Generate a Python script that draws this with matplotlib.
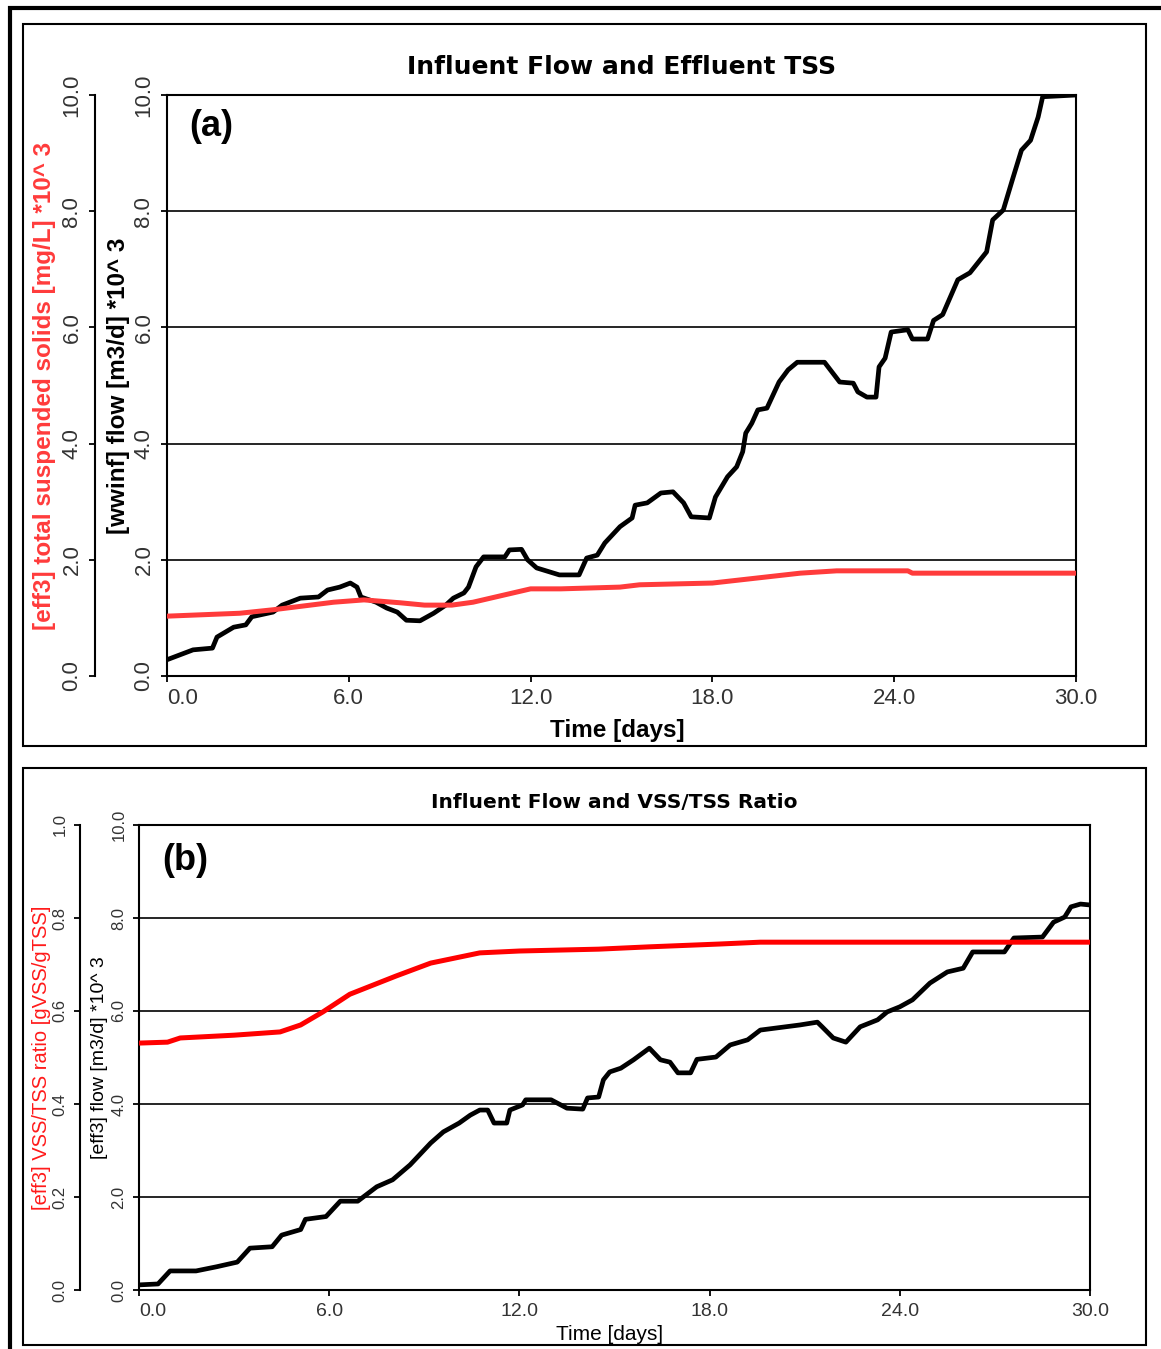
import matplotlib.pyplot as plt
from matplotlib.patches import Rectangle

# ---- data ----
# panel (a): influent flow (*10^3 m3/d) and effluent TSS (*10^3 mg/L)
t_a_flow = [0, 0.86, 1.5, 1.65, 2.2, 2.6, 2.8, 3.5, 3.8, 4.4, 5.0, 5.3, 5.7, 6.05,
            6.27, 6.4, 6.9, 7.25, 7.6, 7.9, 8.35, 8.8, 9.2, 9.45, 9.8, 9.95, 10.2,
            10.45, 11.15, 11.3, 11.7, 11.9, 12.2, 12.95, 13.6, 13.85, 14.2, 14.45,
            14.95, 15.35, 15.45, 15.85, 16.3, 16.7, 17.05, 17.3, 17.9, 18.1, 18.5,
            18.8, 19.0, 19.1, 19.3, 19.5, 19.8, 20.2, 20.5, 20.8, 21.7, 22.2, 22.65,
            22.8, 23.1, 23.4, 23.5, 23.7, 23.9, 24.45, 24.6, 25.1, 25.3, 25.6, 26.1,
            26.5, 27.05, 27.25, 27.6, 27.9, 28.2, 28.5, 28.75, 28.9, 30.0]
flow_a = [0.28, 0.45, 0.48, 0.67, 0.84, 0.88, 1.02, 1.10, 1.22, 1.34, 1.36, 1.48,
          1.53, 1.60, 1.53, 1.36, 1.27, 1.17, 1.10, 0.96, 0.95, 1.08, 1.22, 1.34,
          1.43, 1.53, 1.88, 2.05, 2.05, 2.17, 2.18, 2.00, 1.86, 1.74, 1.74, 2.03,
          2.08, 2.29, 2.57, 2.72, 2.94, 2.98, 3.15, 3.17, 2.98, 2.74, 2.72, 3.08,
          3.43, 3.60, 3.86, 4.18, 4.35, 4.58, 4.61, 5.06, 5.27, 5.40, 5.40, 5.06,
          5.04, 4.89, 4.80, 4.80, 5.32, 5.47, 5.92, 5.96, 5.80, 5.80, 6.12, 6.22,
          6.82, 6.94, 7.30, 7.85, 8.02, 8.54, 9.05, 9.22, 9.62, 9.97, 10.0]

t_a_tss = [0, 2.4, 3.5, 5.5, 6.5, 7.7, 8.5, 9.4, 10.1, 12.0, 13.0, 14.95, 15.6,
           18.0, 20.9, 22.1, 24.45, 24.6, 30.0]
tss_a = [1.03, 1.08, 1.14, 1.27, 1.31, 1.26, 1.22, 1.22, 1.27, 1.50, 1.50, 1.53,
         1.57, 1.60, 1.77, 1.81, 1.81, 1.77, 1.77]

# panel (b): effluent flow (*10^3 m3/d) and VSS/TSS ratio
t_b_flow = [0, 0.6, 0.98, 1.8, 2.45, 3.1, 3.5, 4.2, 4.5, 5.1, 5.25, 5.9, 6.35, 6.9,
            7.5, 8.0, 8.55, 9.2, 9.6, 10.1, 10.45, 10.75, 11.0, 11.2, 11.6, 11.7,
            12.1, 12.2, 13.0, 13.5, 14.0, 14.15, 14.5, 14.65, 14.85, 15.2, 15.6,
            16.1, 16.45, 16.75, 17.0, 17.4, 17.6, 18.2, 18.65, 19.2, 19.6, 20.85,
            21.4, 21.55, 21.9, 22.3, 22.75, 23.3, 23.6, 24.0, 24.4, 24.95, 25.5,
            26.0, 26.3, 27.3, 27.6, 28.5, 28.85, 29.2, 29.4, 29.7, 30.0]
flow_b = [0.11, 0.13, 0.41, 0.41, 0.50, 0.60, 0.90, 0.93, 1.18, 1.30, 1.52, 1.58,
          1.91, 1.91, 2.22, 2.37, 2.69, 3.16, 3.40, 3.59, 3.76, 3.87, 3.87, 3.59,
          3.59, 3.87, 3.98, 4.09, 4.09, 3.91, 3.89, 4.13, 4.15, 4.52, 4.69, 4.77,
          4.95, 5.20, 4.95, 4.90, 4.67, 4.67, 4.96, 5.01, 5.27, 5.38, 5.59, 5.70,
          5.76, 5.66, 5.42, 5.33, 5.66, 5.81, 5.98, 6.09, 6.24, 6.60, 6.84, 6.92,
          7.27, 7.27, 7.57, 7.59, 7.91, 8.02, 8.24, 8.30, 8.28]

t_b_ratio = [0, 0.9, 1.3, 3.0, 4.45, 5.1, 5.8, 6.65, 8.1, 9.2, 10.75, 12.0, 14.5,
             16.1, 18.3, 19.6, 30.0]
ratio_b = [0.531, 0.533, 0.542, 0.548, 0.555, 0.570, 0.598, 0.636, 0.675, 0.703,
           0.725, 0.729, 0.733, 0.738, 0.744, 0.748, 0.748]

x_ticks = [0, 6, 12, 18, 24, 30]
x_ticklabels = ['0.0', '6.0', '12.0', '18.0', '24.0', '30.0']
flow_ticks = [0, 2, 4, 6, 8, 10]
flow_ticklabels = ['0.0', '2.0', '4.0', '6.0', '8.0', '10.0']
ratio_ticks = [0, 0.2, 0.4, 0.6, 0.8, 1.0]
ratio_ticklabels = ['0.0', '0.2', '0.4', '0.6', '0.8', '1.0']

# ---- figure ----
W, H = 1161, 1349
plt.rcParams['font.family'] = ['Liberation Sans', 'DejaVu Sans']
fig = plt.figure(figsize=(W / 100, H / 100), dpi=100)

TICK_C = '#333333'


def px_axes(left, top, right, bottom):
    return [left / W, 1 - bottom / H, (right - left) / W, (bottom - top) / H]


def setup_panel(rect, red_spine_px, tick_fs_x, tick_fs_y, red_top):
    ax = fig.add_axes(rect)
    ax.set_xlim(0, 30)
    ax.set_ylim(0, 10)
    ax.set_xticks(x_ticks, x_ticklabels, fontsize=tick_fs_x, color=TICK_C)
    # first x label sits to the right of its tick in the original
    ax.get_xticklabels()[0].set_horizontalalignment('left')
    ax.set_yticks(flow_ticks, flow_ticklabels, fontsize=tick_fs_y, color=TICK_C,
                  rotation=90, va='center')
    ax.tick_params(axis='both', direction='out', length=4, width=1.3, color='black')
    ax.tick_params(axis='x', pad=5)
    ax.tick_params(axis='y', pad=5)
    ax.grid(axis='y', color='black', lw=1.2)
    for s in ax.spines.values():
        s.set_linewidth(1.5)

    axr = ax.twinx()
    axr.set_ylim(0, red_top)
    axr.yaxis.set_ticks_position('left')
    axr.yaxis.set_label_position('left')
    left_px = rect[0] * W
    width_px = rect[2] * W
    axr.spines['left'].set_position(('axes', (red_spine_px - left_px) / width_px))
    for k in ['right', 'top', 'bottom']:
        axr.spines[k].set_visible(False)
    axr.spines['left'].set_linewidth(1.5)
    axr.tick_params(axis='y', direction='out', length=4, width=1.3, pad=5)
    return ax, axr


# panel (a)
ax_a, axr_a = setup_panel(px_axes(167, 95, 1076, 676), 95, 16, 16, 10)
axr_a.set_yticks(flow_ticks, flow_ticklabels, fontsize=16, color=TICK_C,
                 rotation=90, va='center')
ax_a.plot(t_a_flow, flow_a, color='black', lw=3.4, zorder=3)
axr_a.plot(t_a_tss, tss_a, color='#ff3b3b', lw=3.6)
ax_a.set_title('Influent Flow and Effluent TSS', family='DejaVu Sans',
               fontweight='bold', fontsize=18, pad=15)
ax_a.set_xlabel('Time [days]', fontweight='bold', fontsize=17.5, va='center')
ax_a.xaxis.set_label_coords((617 - 167) / 909, (676 - 730) / 581)
ax_a.set_ylabel('[wwinf] flow [m3/d] *10^ 3', fontweight='bold', fontsize=17.5,
                va='center')
ax_a.yaxis.set_label_coords((118 - 167) / 909, 0.5)
axr_a.set_ylabel('[eff3] total suspended solids [mg/L] *10^ 3', fontweight='bold',
                 fontsize=17.5, color='#ff3b3b', va='center')
axr_a.yaxis.set_label_coords((45 - 167) / 909, 0.5)
ax_a.text(0.025, 0.976, '(a)', transform=ax_a.transAxes, fontsize=26,
          fontweight='bold', va='top', ha='left')

# panel (b)
ax_b, axr_b = setup_panel(px_axes(139, 825, 1090, 1290), 80, 14, 12, 1.0)
axr_b.set_yticks(ratio_ticks, ratio_ticklabels, fontsize=12, color=TICK_C,
                 rotation=90, va='center')
ax_b.plot(t_b_flow, flow_b, color='black', lw=3.4, zorder=3)
axr_b.plot(t_b_ratio, ratio_b, color='#ff0000', lw=3.6)
ax_b.set_title('Influent Flow and VSS/TSS Ratio', family='DejaVu Sans',
               fontweight='bold', fontsize=14.5, pad=12)
ax_b.set_xlabel('Time [days]', fontsize=15, va='center')
ax_b.xaxis.set_label_coords((610 - 139) / 951, (1290 - 1334) / 465)
ax_b.set_ylabel('[eff3] flow [m3/d] *10^ 3', fontsize=14, va='center')
ax_b.yaxis.set_label_coords((100 - 139) / 951, 0.5)
axr_b.set_ylabel('[eff3] VSS/TSS ratio [gVSS/gTSS]', fontsize=14.5,
                 color='#ff1a1a', va='center')
axr_b.yaxis.set_label_coords((42 - 139) / 951, 0.5)
ax_b.text(0.024, 0.962, '(b)', transform=ax_b.transAxes, fontsize=26,
          fontweight='bold', va='top', ha='left')

# panel frames and outer border
for top, bottom in [(24, 746), (768, 1345)]:
    fig.add_artist(Rectangle((23 / W, 1 - bottom / H), (1146 - 23) / W,
                             (bottom - top) / H, transform=fig.transFigure,
                             fill=False, ec='black', lw=1.5))
fig.add_artist(Rectangle((10 / W, 1 - 1400 / H), 1300 / W, (1400 - 7.5) / H,
                         transform=fig.transFigure, fill=False, ec='black', lw=3))

fig.savefig('out.png', dpi=100)
